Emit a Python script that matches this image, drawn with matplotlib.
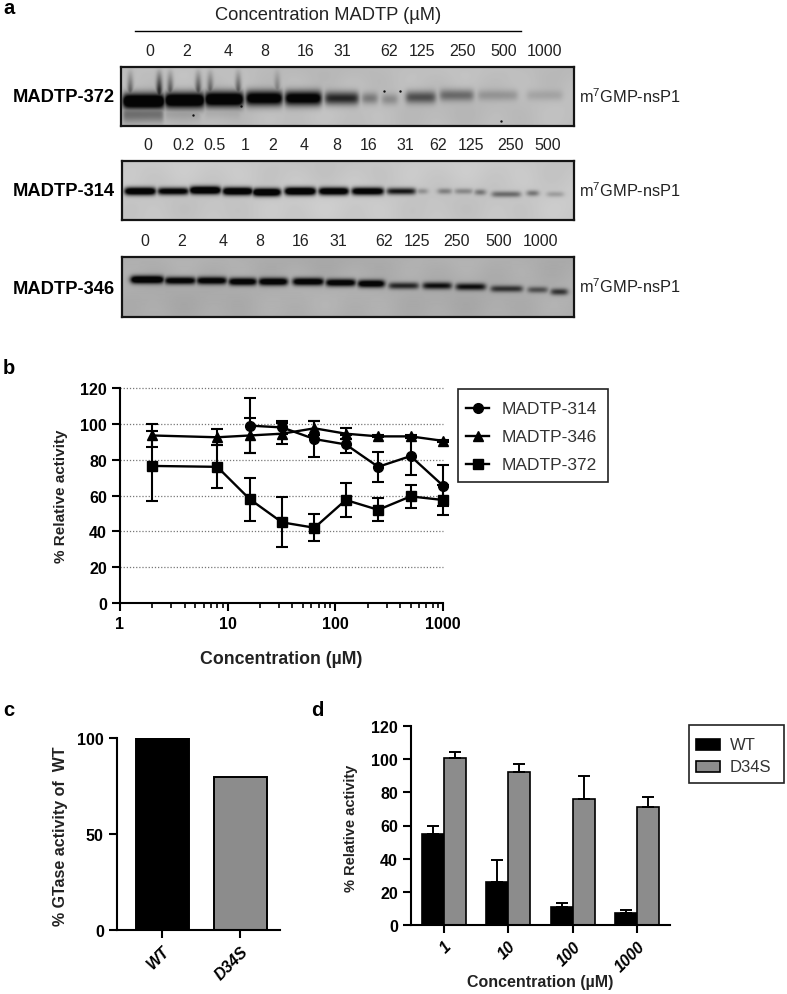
import numpy as np
import matplotlib
matplotlib.use('Agg')
import matplotlib.pyplot as plt
from matplotlib.patches import Rectangle

plt.rcParams['font.family'] = ['Liberation Sans', 'DejaVu Sans']
plt.rcParams['mathtext.fontset'] = 'custom'
plt.rcParams['mathtext.rm'] = 'Liberation Sans'
plt.rcParams['mathtext.default'] = 'rm'

W, H = 787, 995

# panel a, lane labels
labels_372 = ['0', '2', '4', '8', '16', '31', '62', '125', '250', '500', '1000']
labels_372_x = [150, 187, 228, 265, 306, 342, 389, 422, 462, 504, 545]
labels_314 = ['0', '0.2', '0.5', '1', '2', '4', '8', '16', '31', '62', '125', '250', '500']
labels_314_x = [148, 183, 215, 245, 273, 304, 337, 369, 405, 438, 471, 511, 548]
labels_346 = ['0', '2', '4', '8', '16', '31', '62', '125', '250', '500', '1000']
labels_346_x = [145, 182, 223, 260, 301, 338, 384, 417, 457, 499, 540]

# panel a, bands: lane start, lane end, row, darkness
b372_x0 = [123, 165, 205, 246, 285, 325, 362, 382, 406, 440, 478, 527]
b372_x1 = [164, 204, 243, 282, 321, 358, 377, 397, 435, 473, 517, 562]
b372_y = [102, 101, 100, 99, 99, 99, 99, 100, 98, 96, 96, 96]
b372_d = [1.0, 0.97, 0.95, 0.85, 0.82, 0.55, 0.25, 0.18, 0.4, 0.3, 0.14, 0.09]
b314_x0 = [125, 158, 190, 223, 253, 285, 319, 352, 387, 417, 438, 455, 475, 492, 527, 547]
b314_x1 = [155, 188, 220, 252, 280, 315, 348, 383, 415, 427, 451, 472, 485, 520, 538, 563]
b314_y = [192, 192, 191, 192, 193, 192, 192, 192, 192, 192, 192, 192, 193, 195, 194, 195]
b314_d = [0.95, 0.8, 1.0, 0.97, 1.0, 1.0, 0.92, 0.88, 0.62, 0.2, 0.25, 0.22, 0.3, 0.32, 0.3, 0.15]
b346_x0 = [131, 165, 197, 229, 259, 293, 326, 358, 389, 423, 456, 491, 528, 551]
b346_x1 = [163, 195, 226, 256, 287, 323, 355, 384, 418, 451, 485, 522, 547, 567]
b346_y = [281, 282, 282, 283, 283, 283, 284, 285, 287, 287, 288, 290, 291, 293]
b346_d = [0.95, 0.8, 0.82, 0.85, 0.87, 0.85, 0.82, 0.85, 0.55, 0.65, 0.65, 0.5, 0.38, 0.5]

# panel b
conc = [2, 8, 16, 32, 64, 125, 250, 500, 1000]
m314 = [99, 98, 91.5, 88.5, 76, 82, 65.5]
m314_err = [15.5, 3.5, 10, 5, 8.5, 10.5, 11.5]
m346 = [93.5, 92.5, 93.5, 94.5, 97.5, 94.5, 93, 93, 90.5]
m346_err = [6.5, 4.5, 9.5, 6, 4, 3, 0.5, 1, 0.5]
m372 = [76.5, 76, 58, 45, 42, 57.5, 52, 59.5, 57.5]
m372_err = [19.5, 12, 12, 14, 7.5, 9.5, 6.5, 6.5, 8.5]

# panel c
gtase_names = ['WT', 'D34S']
gtase_vals = [100, 79.5]

# panel d
d_conc = ['1', '10', '100', '1000']
d_wt = [55, 26, 11, 7]
d_wt_err = [5, 13, 2, 2]
d_mut = [101, 92, 76, 71]
d_mut_err = [3.5, 5, 14, 6]


def px_axes(fig, x0, y0, x1, y1):
    return fig.add_axes([x0 / W, 1 - y1 / H, (x1 - x0) / W, (y1 - y0) / H])


def draw_blot(fig, box, bg, x0s, x1s, ys, ds, sigma, streaks=(), smear=None):
    ax = px_axes(fig, *box)
    xx, yy = np.meshgrid(np.arange(box[0], box[2], 0.5), np.arange(box[1], box[3], 0.5))
    img = np.full(xx.shape, bg, dtype=float)
    # slow shading so the membrane is not flat
    img += 0.018 * np.sin((xx - box[0]) / 43) * np.cos((yy - box[1]) / 14)
    img += 0.012 * np.sin((xx - box[0]) / 9 + 1) * np.sin((yy - box[1]) / 11)
    dark = np.zeros(xx.shape)
    for a, b, y, d in zip(x0s, x1s, ys, ds):
        lane = 0.5 * (np.tanh((xx - a) / 3.0) - np.tanh((xx - b) / 3.0))
        s = sigma * (0.65 + 0.35 * d)
        dark = np.maximum(dark, np.clip(d * 1.5 * lane * np.exp(-((yy - y) / s) ** 2 / 2), 0, 1))
    for x, d in streaks:
        fade = np.clip((yy - box[1]) / 22, 0, 1) * np.clip((106 - yy) / 6, 0, 1)
        dark = np.maximum(dark, d * np.exp(-((xx - x) / 2.2) ** 2 / 2) * fade)
    if smear:
        for a, b, y, h, d in smear:
            lane = 0.5 * (np.tanh((xx - a) / 2.0) - np.tanh((xx - b) / 2.0))
            dark = np.maximum(dark, d * lane * np.exp(-((yy - y) / h) ** 2 / 2))
    img = img * (1 - dark) + 0.02 * dark
    ax.imshow(img, cmap='gray', vmin=0, vmax=1, aspect='auto',
              extent=[box[0], box[2], box[3], box[1]], interpolation='bilinear')
    ax.set_xticks([])
    ax.set_yticks([])
    for sp in ax.spines.values():
        sp.set_linewidth(1.6)
        sp.set_color('#151515')
    return ax


def bold_ticks(ax, size=11):
    for t in ax.get_xticklabels() + ax.get_yticklabels():
        t.set_fontweight('bold')
        t.set_fontsize(size)


fig = plt.figure(figsize=(W / 100, H / 100), dpi=100)

# page layer for all free text in pixels
page = fig.add_axes([0, 0, 1, 1], zorder=10)
page.set_xlim(0, W)
page.set_ylim(H, 0)
page.axis('off')
page.patch.set_alpha(0)

for letter, x, y in [('a', 3, 9), ('b', 3, 368), ('c', 3, 711), ('d', 311, 711)]:
    page.text(x, y, letter, fontsize=14.5, fontweight='bold', va='center', ha='left')

page.text(328, 15, 'Concentration MADTP (µM)', fontsize=13.2, ha='center', va='center', color='#222222')
page.plot([135, 521], [32, 32], color='black', lw=1)

for labs, xs, y in [(labels_372, labels_372_x, 52), (labels_314, labels_314_x, 146),
                    (labels_346, labels_346_x, 242)]:
    for lab, x in zip(labs, xs):
        page.text(x, y, lab, fontsize=11.5, ha='center', va='center', color='#222222')

for name, y, y2 in [('MADTP-372', 98, 97), ('MADTP-314', 192, 191), ('MADTP-346', 289, 287)]:
    page.text(115, y, name, fontsize=13.2, fontweight='bold', ha='right', va='center')
    page.text(579, y2, 'm$^7$GMP-nsP1', fontsize=11.8, ha='left', va='center', color='#222222')

blot1 = draw_blot(fig, (121, 68, 574, 127), 0.74, b372_x0, b372_x1, b372_y, b372_d, 5.5,
                  streaks=[(159, 0.8), (170, 0.55), (198, 0.6), (210, 0.5), (238, 0.55), (277, 0.35), (130, 0.5)],
                  smear=[(123, 163, 115, 6, 0.42), (165, 200, 114, 5, 0.13), (205, 240, 112, 5, 0.09)])
blot1.scatter([384, 400, 193, 241, 501], [92, 92, 116, 107, 122], s=3, color='#111111', linewidths=0)
draw_blot(fig, (122, 162, 574, 221), 0.78, b314_x0, b314_x1, b314_y, b314_d, 2.8)
draw_blot(fig, (122, 258, 574, 318), 0.68, b346_x0, b346_x1, b346_y, b346_d, 2.8)

# panel b
axb = px_axes(fig, 120, 389, 443, 604)
axb.set_xscale('log')
axb.set_xlim(1, 1000)
axb.set_ylim(0, 120)
for v in range(20, 121, 20):
    axb.axhline(v, color='#777777', lw=0.9, ls=(0, (1, 1.5)), zorder=0, clip_on=False)
h1 = axb.errorbar(conc[2:], m314, yerr=m314_err, color='black', marker='o', ms=7, lw=1.7,
                  capsize=4, capthick=1.5, elinewidth=1.5, clip_on=False)
h2 = axb.errorbar(conc, m346, yerr=m346_err, color='black', marker='^', ms=7, lw=1.7,
                  capsize=4, capthick=1.5, elinewidth=1.5, clip_on=False)
h3 = axb.errorbar(conc, m372, yerr=m372_err, color='black', marker='s', ms=7, lw=1.7,
                  capsize=4, capthick=1.5, elinewidth=1.5, clip_on=False)
for art in (h1, h2, h3):
    for cap in art[1]:
        cap.set_clip_on(False)
    for bar in art[2]:
        bar.set_clip_on(False)
axb.set_xticks([1, 10, 100, 1000])
axb.set_xticklabels(['1', '10', '100', '1000'])
axb.set_yticks(range(0, 121, 20))
axb.spines['top'].set_visible(False)
axb.spines['right'].set_visible(False)
axb.spines['left'].set_linewidth(1.5)
axb.spines['bottom'].set_linewidth(1.5)
axb.tick_params(which='major', width=1.5, length=6)
axb.tick_params(which='minor', width=1.2, length=3.5)
bold_ticks(axb, 11.5)
page.text(61, 496, '% Relative activity', rotation=90, fontsize=11, fontweight='bold',
          ha='center', va='center', color='#222222')
page.text(281, 660, 'Concentration (µM)', fontsize=12.8, fontweight='bold', ha='center', va='center',
          color='#222222')

# legend of panel b, drawn by hand to fit the box of the reference
page.add_patch(Rectangle((458, 390), 150, 93, fc='white', ec='#222222', lw=1.2))
for y, m, name in [(409, 'o', 'MADTP-314'), (437, '^', 'MADTP-346'), (465, 's', 'MADTP-372')]:
    page.plot([466, 489], [y, y], color='black', lw=1.7)
    page.plot([477.5], [y], color='black', marker=m, ms=7)
    page.text(502, y, name, fontsize=12.5, ha='left', va='center', color='#333333')

# panel c
axc = px_axes(fig, 117, 739, 280, 931)
axc.bar([0, 1], gtase_vals, width=0.68, color=['black', '#8c8c8c'], edgecolor='black', linewidth=1.4)
axc.set_xlim(-0.577, 1.51)
axc.set_ylim(0, 100)
axc.set_xticks([0, 1])
axc.set_xticklabels(gtase_names)
axc.set_yticks([0, 50, 100])
axc.spines['top'].set_visible(False)
axc.spines['right'].set_visible(False)
axc.spines['left'].set_linewidth(1.5)
axc.spines['bottom'].set_linewidth(1.5)
axc.tick_params(width=1.5, length=6)
bold_ticks(axc, 11.5)
for t in axc.get_xticklabels():
    t.set_rotation(45)
    t.set_ha('right')
    t.set_rotation_mode('anchor')
    t.set_style('italic')
page.text(60, 836, '% GTase activity of  WT', rotation=90, fontsize=11.5, fontweight='bold',
          ha='center', va='center', color='#222222')

# panel d
axd = px_axes(fig, 411, 727, 670, 926)
pos = np.arange(len(d_conc))
bw = 0.34
axd.bar(pos - bw / 2, d_wt, width=bw, color='black', edgecolor='black', linewidth=1.2,
        yerr=[np.zeros(4), d_wt_err], capsize=4, error_kw={'elinewidth': 1.4, 'capthick': 1.4})
axd.bar(pos + bw / 2, d_mut, width=bw, color='#8c8c8c', edgecolor='black', linewidth=1.2,
        yerr=[np.zeros(4), d_mut_err], capsize=4, error_kw={'elinewidth': 1.4, 'capthick': 1.4})
axd.set_xlim(-0.51, 3.51)
axd.set_ylim(0, 120)
axd.set_xticks(pos)
axd.set_xticklabels(d_conc)
axd.set_yticks(range(0, 121, 20))
axd.spines['top'].set_visible(False)
axd.spines['right'].set_visible(False)
axd.spines['left'].set_linewidth(1.5)
axd.spines['bottom'].set_linewidth(1.5)
axd.tick_params(width=1.5, length=6)
bold_ticks(axd, 11.5)
for t in axd.get_xticklabels():
    t.set_rotation(45)
    t.set_ha('right')
    t.set_rotation_mode('anchor')
    t.set_style('italic')
page.text(351, 828, '% Relative activity', rotation=90, fontsize=10.5, fontweight='bold',
          ha='center', va='center', color='#222222')
page.text(540, 983, 'Concentration (µM)', fontsize=11.5, fontweight='bold', ha='center', va='center',
          color='#222222')

# legend of panel d
page.add_patch(Rectangle((689, 726), 95, 58, fc='white', ec='#222222', lw=1.2))
for y, col, name in [(745, 'black', 'WT'), (767.5, '#8c8c8c', 'D34S')]:
    page.add_patch(Rectangle((696, y - 5.5), 24, 11, fc=col, ec='black', lw=1.2))
    page.text(730, y, name, fontsize=12, ha='left', va='center', color='#333333')

fig.savefig('out.png', dpi=100)
